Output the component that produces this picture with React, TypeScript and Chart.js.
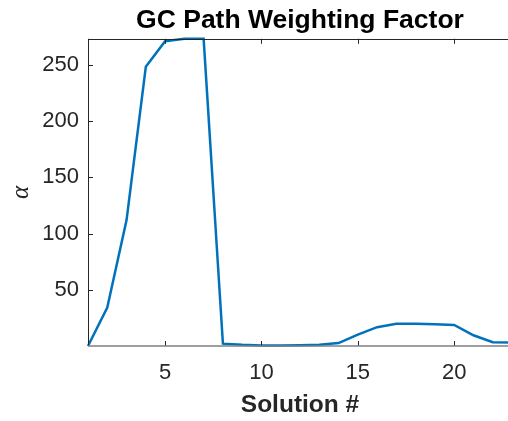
import React, { useEffect, useRef } from "react";
import { Chart, registerables } from "chart.js";

Chart.register(...registerables);

const solutions = [1, 2, 3, 4, 5, 6, 7, 8, 9, 10, 11, 12, 13, 14, 15, 16, 17, 18, 19, 20, 21, 22, 23];
const alphaValues = [0.3, 34.4, 112, 248, 270.7, 272.8, 272.8, 2.4, 1.4, 0.8, 0.8, 1.0, 1.5, 2.9, 10.4, 17, 20, 20, 19.7, 19, 9.8, 3.6, 3.4];
const xTicks = [5, 10, 15, 20];
const yTicks = [50, 100, 150, 200, 250];

const FONT = "'Liberation Sans', Arial, Helvetica, sans-serif";
const AXIS_COLOR = "#262626";

const axesPlugin = {
  id: "matlabAxes",
  afterDatasetsDraw(chart: any) {
    const { ctx, chartArea, scales } = chart;
    const { left, right, top, bottom } = chartArea;
    const tl = 5;
    ctx.save();
    ctx.lineWidth = 1;
    ctx.strokeStyle = AXIS_COLOR;
    ctx.beginPath();
    ctx.moveTo(left, Math.round(top) + 0.5);
    ctx.lineTo(right, Math.round(top) + 0.5);
    ctx.stroke();
    ctx.beginPath();
    ctx.moveTo(Math.round(left) + 0.5, top);
    ctx.lineTo(Math.round(left) + 0.5, bottom);
    ctx.stroke();
    for (const t of scales.y.ticks) {
      const py = Math.round(scales.y.getPixelForValue(t.value)) + 0.5;
      ctx.beginPath();
      ctx.moveTo(left, py);
      ctx.lineTo(left + tl, py);
      ctx.stroke();
    }
    for (const t of scales.x.ticks) {
      const px = Math.round(scales.x.getPixelForValue(t.value)) + 0.5;
      ctx.beginPath();
      ctx.moveTo(px, top);
      ctx.lineTo(px, top + tl);
      ctx.moveTo(px, bottom);
      ctx.lineTo(px, bottom - tl);
      ctx.stroke();
    }
    ctx.strokeStyle = "#7f7f7f";
    ctx.lineWidth = 1.5;
    ctx.beginPath();
    ctx.moveTo(left, bottom);
    ctx.lineTo(right, bottom);
    ctx.stroke();
    ctx.restore();
  },
};

export default function App() {
  const ref = useRef<HTMLCanvasElement>(null);

  useEffect(() => {
    if (!ref.current) return;
    const chart = new Chart(ref.current, {
      type: "line",
      data: {
        datasets: [
          {
            data: solutions.map((s, i) => ({ x: s, y: alphaValues[i] })),
            borderColor: "#0072BD",
            borderWidth: 2.5,
            pointRadius: 0,
            tension: 0,
            fill: false,
            clip: false as any,
          },
        ],
      },
      options: {
        responsive: false,
        animation: false,
        layout: { padding: 0 },
        plugins: {
          legend: { display: false },
          tooltip: { enabled: false },
          title: {
            display: true,
            fullSize: false,
            text: "GC Path Weighting Factor",
            color: "#000000",
            font: { family: FONT, size: 26.5, weight: "bold", lineHeight: 1.2 },
            padding: { top: 5, bottom: 2 },
          },
        },
        scales: {
          x: {
            type: "linear",
            min: 1,
            max: 23,
            afterBuildTicks: (scale: any) => {
              scale.ticks = xTicks.map((v) => ({ value: v }));
            },
            afterFit: (scale: any) => {
              scale.height = 75;
            },
            grid: { drawOnChartArea: false, drawTicks: false },
            border: { display: false },
            ticks: {
              color: AXIS_COLOR,
              font: { family: FONT, size: 22 },
              padding: 14,
              maxRotation: 0,
              autoSkip: false,
            },
            title: {
              display: true,
              text: "Solution #",
              color: AXIS_COLOR,
              font: { family: FONT, size: 24.5, weight: "bold", lineHeight: 1.2 },
              padding: { top: 0, bottom: 1 },
            },
          },
          y: {
            type: "linear",
            min: 0.3,
            max: 272.8,
            afterBuildTicks: (scale: any) => {
              scale.ticks = yTicks.map((v) => ({ value: v }));
            },
            afterFit: (scale: any) => {
              scale.width = 88;
            },
            grid: { drawOnChartArea: false, drawTicks: false },
            border: { display: false },
            ticks: {
              color: AXIS_COLOR,
              font: { family: FONT, size: 22 },
              padding: 9,
              autoSkip: false,
            },
            title: {
              display: true,
              text: "α",
              color: AXIS_COLOR,
              font: { family: "'Liberation Serif', 'DejaVu Serif', serif", size: 25, style: "italic", lineHeight: 1.2 },
              padding: { top: 6, bottom: 0 },
            },
          },
        },
      },
      plugins: [axesPlugin],
    });
    return () => chart.destroy();
  }, []);

  return (
    <div
      style={{
        position: "fixed",
        left: 0,
        top: 0,
        width: 508,
        height: 421,
        overflow: "hidden",
        background: "#ffffff",
      }}
    >
      <canvas ref={ref} width={512} height={421} style={{ display: "block" }} />
    </div>
  );
}
